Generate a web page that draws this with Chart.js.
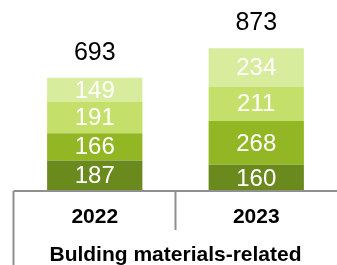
<!DOCTYPE html>
<html>
<head>
<meta charset="utf-8">
<script src="https://cdn.jsdelivr.net/npm/chart.js@4"></script>
<style>
  body { margin: 0; background: #fff; }
  #wrap { width: 337px; height: 265px; position: relative; }
</style>
</head>
<body>
<div id="wrap"><canvas id="materialsChart"></canvas></div>
<script>
const years = ['2022', '2023'];
const seg1 = [187, 160]; // bottom
const seg2 = [166, 268];
const seg3 = [191, 211];
const seg4 = [149, 234]; // top
const totals = [693, 873];
const groupTitle = 'Bulding materials-related';

const FONT = "'Liberation Sans', Arial, sans-serif";
const LINE = '#8f8f8f';

// value labels in segments + totals on top
const labelsPlugin = {
    id: 'labels',
    afterDatasetsDraw(chart) {
        const ctx = chart.ctx;
        ctx.save();
        ctx.textAlign = 'center';
        ctx.textBaseline = 'middle';
        ctx.font = '24px ' + FONT;
        ctx.fillStyle = '#ffffff';
        chart.data.datasets.forEach((ds, i) => {
            chart.getDatasetMeta(i).data.forEach((bar, j) => {
                const mid = (bar.y + bar.base) / 2;
                ctx.fillText(String(ds.data[j]), bar.x, mid + 1);
            });
        });
        const yScale = chart.scales.y;
        const xScale = chart.scales.x;
        ctx.fillStyle = '#000000';
        ctx.font = '25px ' + FONT;
        totals.forEach((t, j) => {
            ctx.fillText(String(t), xScale.getPixelForValue(j), yScale.getPixelForValue(t) - 25);
        });
        ctx.restore();
    }
};

// axis frame lines (baseline, category divider, left edge)
const framePlugin = {
    id: 'frame',
    afterDraw(chart) {
        const ctx = chart.ctx;
        const x = chart.scales.x;
        const left = x.left - 0.5;
        const divider = (x.getPixelForValue(0) + x.getPixelForValue(1)) / 2;
        ctx.save();
        ctx.strokeStyle = LINE;
        ctx.lineWidth = 2;
        ctx.beginPath();
        ctx.moveTo(left, x.top);
        ctx.lineTo(chart.width, x.top);
        ctx.moveTo(left, x.top);
        ctx.lineTo(left, chart.height);
        ctx.moveTo(divider, x.top);
        ctx.lineTo(divider, x.top + 39);
        ctx.stroke();
        ctx.restore();
    }
};

const ctx = document.getElementById('materialsChart').getContext('2d');
new Chart(ctx, {
    type: 'bar',
    data: {
        labels: years,
        datasets: [
            { data: seg1, backgroundColor: '#6b8a1e' },
            { data: seg2, backgroundColor: '#93b724' },
            { data: seg3, backgroundColor: '#c5e06a' },
            { data: seg4, backgroundColor: '#d8ec9e' }
        ]
    },
    options: {
        responsive: true,
        maintainAspectRatio: false,
        animation: false,
        layout: { padding: { top: 27.5, left: 14, right: 0, bottom: 0 } },
        barPercentage: 0.59,
        categoryPercentage: 1,
        plugins: {
            legend: { display: false },
            tooltip: { enabled: false }
        },
        scales: {
            x: {
                stacked: true,
                grid: { display: false, drawTicks: false },
                border: { display: false },
                ticks: {
                    color: '#000',
                    padding: 14,
                    font: { family: FONT, size: 21, weight: 'bold' }
                },
                title: {
                    display: true,
                    text: groupTitle,
                    color: '#000',
                    padding: { top: 0, bottom: -1 },
                    font: { family: FONT, size: 21, weight: 'bold', lineHeight: 1 }
                },
                afterFit(scale) { scale.height = 74; }
            },
            y: {
                stacked: true,
                display: false,
                min: 0,
                max: 1000
            }
        }
    },
    plugins: [labelsPlugin, framePlugin]
});
</script>
</body>
</html>
